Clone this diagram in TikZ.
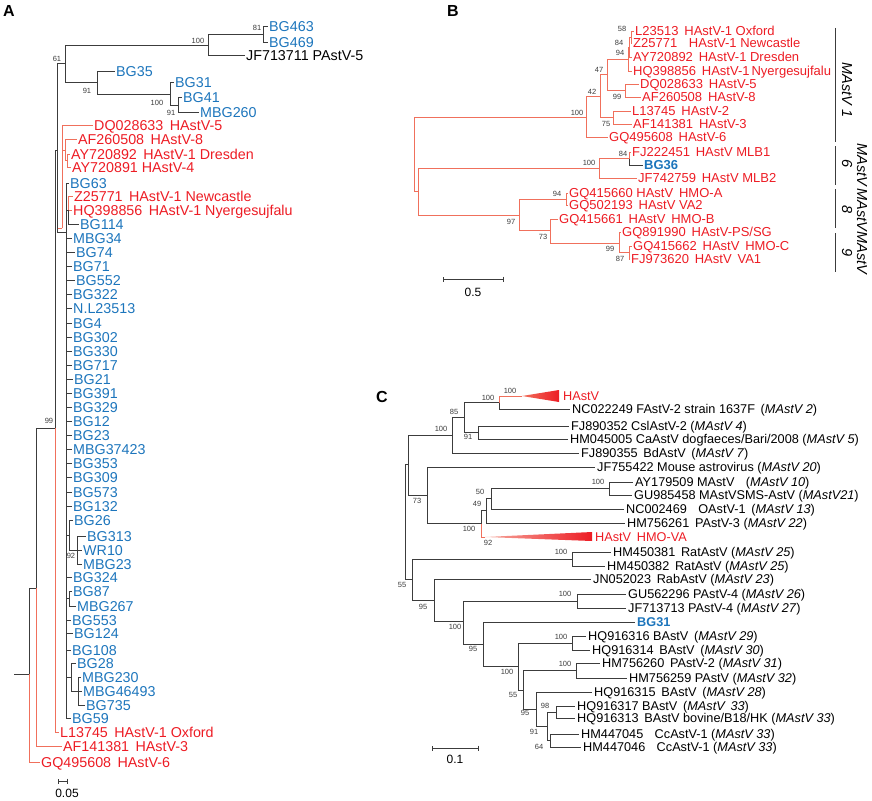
\documentclass[tikz,border=0pt]{standalone}
\usepackage{fontspec}
\setmainfont{Liberation Sans}
\usetikzlibrary{arrows.meta}
\definecolor{ablue}{RGB}{28,117,188}
\definecolor{ared}{RGB}{237,28,36}
\definecolor{salm}{RGB}{240,112,92}
\definecolor{lineg}{RGB}{60,60,60}
\newcommand{\lgap}{\hspace{0.45em}}

\begin{document}
\begin{tikzpicture}[x=1pt,y=-1pt,
  blk/.style={draw=lineg,line width=0.7pt},
  sal/.style={draw=salm,line width=0.8pt},
  leafA/.style={anchor=west,xshift=-1.5pt,inner xsep=1.5pt,inner ysep=0pt,text height=10.3pt,text depth=0pt,font=\fontsize{14.3}{14}\selectfont},
  leafB/.style={anchor=west,xshift=-1.5pt,inner xsep=1.5pt,inner ysep=0pt,text height=9.4pt,text depth=0pt,font=\fontsize{13}{13}\selectfont,text=ared},
  leafC/.style={anchor=west,xshift=-2pt,inner xsep=2pt,inner ysep=0pt,text height=9.1pt,text depth=0pt,font=\fontsize{12.7}{12.7}\selectfont},
  bs/.style={font=\fontsize{7.5}{7.5}\selectfont,inner sep=0pt,text=lineg},
  panel/.style={font=\fontsize{16}{16}\selectfont\bfseries,inner sep=0pt},
  clade/.style={font=\fontsize{14.5}{14.5}\selectfont\itshape,inner sep=0pt,rotate=-90}]

\useasboundingbox (0,0) rectangle (872,800);

%panel A
\node[panel] (pA) at (9,11) {A};

\coordinate (aStub) at (14,674);
\coordinate (aRoot) at (29,674);
\coordinate (aN1) at (36,588);
\coordinate (aN99) at (55,428);
\coordinate (aX) at (57,150);
\coordinate (aN61) at (65,63.5);
\coordinate (aN100) at (208,45);
\coordinate (aN81) at (263,34);
\coordinate (aN91) at (97,82.5);
\coordinate (aN100b) at (170,94);
\coordinate (aN91b) at (178,105);
\coordinate (aR1) at (62,228);
\coordinate (aR2) at (65,150);
\coordinate (aR3) at (67,160.5);
\coordinate (aP) at (66,232);
\coordinate (aZ) at (68,210);
\coordinate (aB26) at (69,535);
\coordinate (aB92) at (77,550);
\coordinate (aB87) at (69,598);
\coordinate (aG1) at (71,677);
\coordinate (aG2) at (78,691);

\node[leafA,text=ablue] (aBG463) at (269,26) {BG463};
\node[leafA,text=ablue] (aBG469) at (269,42) {BG469};
\node[leafA] (aJF713711) at (246,55) {JF713711 PAstV-5};
\node[leafA,text=ablue] (aBG35) at (116,71) {BG35};
\node[leafA,text=ablue] (aBG31) at (175,82) {BG31};
\node[leafA,text=ablue] (aBG41) at (183,97) {BG41};
\node[leafA,text=ablue] (aMBG260) at (200,112) {MBG260};
\node[leafA,text=ared] (aDQ028633) at (94,125.5) {DQ028633\lgap HAstV-5};
\node[leafA,text=ared] (aAF260508) at (78,139.5) {AF260508\lgap HAstV-8};
\node[leafA,text=ared] (aAY720892) at (71,154) {AY720892\lgap HAstV-1 Dresden};
\node[leafA,text=ared] (aAY720891) at (72,167) {AY720891 HAstV-4};
\node[leafA,text=ared] (aZ25771) at (74,196) {Z25771\lgap HAstV-1 Newcastle};
\node[leafA,text=ared] (aHQ398856) at (73,210) {HQ398856\lgap HAstV-1 Nyergesujfalu};
\node[leafA,text=ablue] (aBG114) at (80,224) {BG114};
\node[leafA,text=ablue] (aBG26) at (74,520) {BG26};
\node[leafA,text=ablue] (aBG313) at (87,536) {BG313};
\node[leafA,text=ablue] (aWR10) at (83,550) {WR10};
\node[leafA,text=ablue] (aMBG23) at (83,564) {MBG23};
\node[leafA,text=ablue] (aBG87) at (73,591) {BG87};
\node[leafA,text=ablue] (aMBG267) at (77,606) {MBG267};
\node[leafA,text=ablue] (aBG28) at (77,663) {BG28};
\node[leafA,text=ablue] (aMBG230) at (82,677) {MBG230};
\node[leafA,text=ablue] (aMBG46493) at (83,691) {MBG46493};
\node[leafA,text=ablue] (aBG735) at (86,705) {BG735};
\node[leafA,text=ared] (aL13745) at (60,732) {L13745\lgap HAstV-1 Oxford};
\node[leafA,text=ared] (aAF141381) at (63,746) {AF141381\lgap HAstV-3};
\node[leafA,text=ared] (aGQ495608) at (41,762) {GQ495608\lgap HAstV-6};

\draw[blk] (aStub) -- (aRoot);
\draw[sal] (aRoot) |- (aGQ495608.west);
\draw[blk] (aRoot) |- (aN1);
\draw[sal] (aN1) |- (aAF141381.west);
\draw[blk] (aN1) |- (aN99);
\draw[sal] (aN99) |- (aL13745.west);
\draw[blk] (aN99) |- (aX);
\draw[sal] (aX) |- (aR1);
\draw[blk] (aX) |- (aN61);
\draw[blk] (aX) |- (aP);
\draw[blk] (aN61) |- (aN100);
\draw[blk] (aN61) |- (aN91);
\draw[blk] (aN100) |- (aN81);
\draw[blk] (aN100) |- (aJF713711.west);
\draw[blk] (aN81) |- (aBG463.west);
\draw[blk] (aN81) |- (aBG469.west);
\draw[blk] (aN91) |- (aBG35.west);
\draw[blk] (aN91) |- (aN100b);
\draw[blk] (aN100b) |- (aBG31.west);
\draw[blk] (aN100b) |- (aN91b);
\draw[blk] (aN91b) |- (aBG41.west);
\draw[blk] (aN91b) |- (aMBG260.west);
\draw[sal] (aR1) |- (aDQ028633.west);
\draw[sal] (aR1) |- (aR2);
\draw[sal] (aR2) |- (aAF260508.west);
\draw[sal] (aR2) |- (aR3);
\draw[sal] (aR3) |- (aAY720892.west);
\draw[sal] (aR3) |- (aAY720891.west);
\draw[blk] (aP) |- (aZ);
\draw[sal] (aZ) |- (aZ25771.west);
\draw[sal] (aZ) |- (aHQ398856.west);
\draw[blk] (aZ) |- (aBG114.west);
\draw[blk] (aP) |- (aB26);
\draw[blk] (aB26) |- (aBG26.west);
\draw[blk] (aB26) |- (aB92);
\draw[blk] (aB92) |- (aBG313.west);
\draw[blk] (aB92) |- (aWR10.west);
\draw[blk] (aB92) |- (aMBG23.west);
\draw[blk] (aP) |- (aB87);
\draw[blk] (aB87) |- (aBG87.west);
\draw[blk] (aB87) |- (aMBG267.west);
\draw[blk] (aP) |- (aG1);
\draw[blk] (aG1) |- (aBG28.west);
\draw[blk] (aG1) |- (aG2);
\draw[blk] (aG2) |- (aMBG230.west);
\draw[blk] (aG2) |- (aMBG46493.west);
\draw[blk] (aG2) |- (aBG735.west);

% polytomy of the BG samples
\foreach \nm/\lb/\xx/\yy in {BG63/BG63/70/183, MBG34/MBG34/73/238, BG74/BG74/76/252,
  BG71/BG71/73/266, BG552/BG552/76/280, BG322/BG322/73/294, NL23513/N.L23513/73/308,
  BG4/BG4/73/323, BG302/BG302/73/337, BG330/BG330/73/351, BG717/BG717/73/365,
  BG21/BG21/74/379, BG391/BG391/73/393, BG329/BG329/73/407, BG12/BG12/73/421,
  BG23/BG23/73/435, MBG37423/MBG37423/73/449, BG353/BG353/73/463, BG309/BG309/73/477,
  BG573/BG573/73/492, BG132/BG132/73/506, BG324/BG324/73/577, BG553/BG553/72/620,
  BG124/BG124/74/633, BG108/BG108/72/650, BG59/BG59/72/718} {
  \node[leafA,text=ablue] (a\nm) at (\xx,\yy) {\lb};
  \draw[blk] (aP) |- (a\nm.west);
}

\foreach \v/\xx/\yy [count=\i] in {100/198/41, 81/257/28, 61/57/59, 91/87/91,
  100/157/103, 91/171/113, 99/49/421, 92/71/556}
  \node[bs] (abs\i) at (\xx,\yy) {\v};

\coordinate (aSc1) at (58,781);
\coordinate (aSc2) at (68,781);
\draw[blk,{Bar[width=5pt]}-{Bar[width=5pt]}] (aSc1) -- (aSc2);
\node[bs,font=\fontsize{12}{12}\selectfont,text=black] (aScl) at (67,793) {0.05};

%panel B
\node[panel] (pB) at (453,11) {B};

\coordinate (bRoot) at (414,154);
\coordinate (bN100) at (586,117);
\coordinate (bN42) at (600,96);
\coordinate (bN47) at (607,74);
\coordinate (bN94) at (628,59);
\coordinate (bN84) at (629,47);
\coordinate (bN58) at (631,37);
\coordinate (bN99) at (625,90.5);
\coordinate (bN75) at (613,117.5);
\coordinate (bZ) at (418,191.5);
\coordinate (bM100) at (599,168);
\coordinate (bN84b) at (629,158.5);
\coordinate (bN97) at (519,215);
\coordinate (bN94b) at (566,199);
\coordinate (bN73) at (550,230.5);
\coordinate (bN99b) at (619,243);
\coordinate (bN87) at (629,252.5);

\node[leafB] (bL23513) at (635,31) {L23513\lgap HAstV-1 Oxford};
\node[leafB] (bZ25771) at (633,43) {Z25771\lgap\lgap HAstV-1 Newcastle};
\node[leafB] (bAY720892) at (633,57) {AY720892\lgap HAstV-1 Dresden};
\node[leafB] (bHQ398856) at (633,71) {HQ398856\lgap HAstV-1\hspace{2pt}Nyergesujfalu};
\node[leafB] (bDQ028633) at (640,84) {DQ028633\lgap HAstV-5};
\node[leafB] (bAF260508) at (642,97) {AF260508\lgap HAstV-8};
\node[leafB] (bL13745) at (632,111) {L13745\lgap HAstV-2};
\node[leafB] (bAF141381) at (633,124) {AF141381\lgap HAstV-3};
\node[leafB] (bGQ495608) at (609,137) {GQ495608\lgap HAstV-6};
\node[leafB] (bFJ222451) at (632,152) {FJ222451\lgap HAstV MLB1};
\node[leafB,text=ablue,font=\fontsize{13}{13}\selectfont\bfseries] (bBG36) at (644,165) {BG36};
\node[leafB] (bJF742759) at (638,178) {JF742759\lgap HAstV MLB2};
\node[leafB] (bGQ415660) at (569,193) {GQ415660 HAstV\lgap HMO-A};
\node[leafB] (bGQ502193) at (569,205) {GQ502193\lgap HAstV VA2};
\node[leafB] (bGQ415661) at (559,219) {GQ415661\lgap HAstV\lgap HMO-B};
\node[leafB] (bGQ891990) at (622,232) {GQ891990\lgap HAstV-PS/SG};
\node[leafB] (bGQ415662) at (633,246) {GQ415662\lgap HAstV\lgap HMO-C};
\node[leafB] (bFJ973620) at (631,259) {FJ973620\lgap HAstV\lgap VA1};

\draw[sal] (bRoot) |- (bN100);
\draw[sal] (bRoot) |- (bZ);
\draw[sal] (bN100) |- (bN42);
\draw[sal] (bN100) |- (bGQ495608.west);
\draw[sal] (bN42) |- (bN47);
\draw[sal] (bN42) |- (bN75);
\draw[sal] (bN47) |- (bN94);
\draw[sal] (bN47) |- (bN99);
\draw[sal] (bN94) |- (bN84);
\draw[sal] (bN94) |- (bHQ398856.west);
\draw[sal] (bN84) |- (bN58);
\draw[sal] (bN84) |- (bAY720892.west);
\draw[sal] (bN58) |- (bL23513.west);
\draw[sal] (bN58) |- (bZ25771.west);
\draw[sal] (bN99) |- (bDQ028633.west);
\draw[sal] (bN99) |- (bAF260508.west);
\draw[sal] (bN75) |- (bL13745.west);
\draw[sal] (bN75) |- (bAF141381.west);
\draw[sal] (bZ) |- (bM100);
\draw[sal] (bZ) |- (bN97);
\draw[sal] (bM100) |- (bN84b);
\draw[sal] (bM100) |- (bJF742759.west);
\draw[sal] (bN84b) |- (bFJ222451.west);
\draw[blk] (bN84b) |- (bBG36.west);
\draw[sal] (bN97) |- (bN94b);
\draw[sal] (bN97) |- (bN73);
\draw[sal] (bN94b) |- (bGQ415660.west);
\draw[sal] (bN94b) |- (bGQ502193.west);
\draw[sal] (bN73) |- (bGQ415661.west);
\draw[sal] (bN73) |- (bN99b);
\draw[sal] (bN99b) |- (bGQ891990.west);
\draw[sal] (bN99b) |- (bN87);
\draw[sal] (bN87) |- (bGQ415662.west);
\draw[sal] (bN87) |- (bFJ973620.west);

\foreach \v/\xx/\yy [count=\i] in {58/622/29, 84/619/43, 94/620/53, 47/599/70,
  99/617/97, 42/592/92, 100/577/113, 75/606/124, 84/623/154, 100/589/163,
  94/557/194, 97/511/222, 73/543/237, 99/610/249, 87/620/259}
  \node[bs] (bbs\i) at (\xx,\yy) {\v};

% genotype bars
\draw[blk] (835,28) -- (835,142);
\draw[blk] (835,146) -- (835,185);
\draw[blk] (835,189) -- (835,228);
\draw[blk] (835,233) -- (835,272);
\node[clade] (bG1) at (847,90) {MAstV 1};
\node[clade] (bG6a) at (862,165) {MAstV};
\node[clade] (bG6b) at (847,164) {6};
\node[clade] (bG8a) at (862,210) {MAstV};
\node[clade] (bG8b) at (847,210) {8};
\node[clade] (bG9a) at (862,253) {MAstV};
\node[clade] (bG9b) at (847,253) {9};

\coordinate (bSc1) at (443,279);
\coordinate (bSc2) at (504,279);
\draw[blk,{Bar[width=5pt]}-{Bar[width=5pt]}] (bSc1) -- (bSc2);
\node[bs,font=\fontsize{12}{12}\selectfont,text=black] (bScl) at (473,292) {0.5};

%panel C
\node[panel] (pC) at (382,397) {C};

\coordinate (cRoot) at (405,522);
\coordinate (cT) at (408,464.5);
\coordinate (cN100a) at (452,435);
\coordinate (cN85) at (464,417);
\coordinate (cN100h) at (499,402.5);
\coordinate (cN91) at (478,432.5);
\coordinate (cN73) at (427,495);
\coordinate (cN100x) at (481,523.5);
\coordinate (cN49) at (486,510.5);
\coordinate (cN50) at (491,498);
\coordinate (cN100m) at (609,488.5);
\coordinate (cN55) at (412,579.5);
\coordinate (cN100r) at (572,559);
\coordinate (cN95) at (434,600);
\coordinate (cN100b) at (463,621.5);
\coordinate (cN100g) at (577,601);
\coordinate (cN95b) at (483,644);
\coordinate (cNA) at (518,666.5);
\coordinate (cN100q) at (572,643);
\coordinate (cN55b) at (523,690);
\coordinate (cN100p) at (576,670.5);
\coordinate (cN95c) at (536,709);
\coordinate (cN91b) at (547,726);
\coordinate (cN98) at (556,712);
\coordinate (cN64) at (550,740.5);
\coordinate (cHAtip) at (522,396);
\coordinate (cVAtip) at (485,537);

\node[leafC,text=ared] (cHAstV) at (563,396) {HAstV};
\node[leafC] (cNC022249) at (572,409) {NC022249 FAstV-2 strain 1637F\lgap(\textit{MAstV 2})};
\node[leafC] (cFJ890352) at (571,426) {FJ890352 CslAstV-2 (\textit{MAstV 4})};
\node[leafC] (cHM045005) at (570,439) {HM045005 CaAstV dogfaeces/Bari/2008 (\textit{MAstV 5})};
\node[leafC] (cFJ890355) at (581,453) {FJ890355\lgap BdAstV\lgap(\textit{MAstV 7})};
\node[leafC] (cJF755422) at (597,467) {JF755422 Mouse astrovirus (\textit{MAstV 20})};
\node[leafC] (cAY179509) at (635,482) {AY179509 MAstV\lgap\lgap(\textit{MAstV 10})};
\node[leafC] (cGU985458) at (634,495) {GU985458 MAstVSMS-AstV (\textit{MAstV21})};
\node[leafC] (cNC002469) at (626,509) {NC002469\lgap\lgap OAstV-1\lgap(\textit{MAstV 13})};
\node[leafC] (cHM756261) at (627,523) {HM756261\lgap PAstV-3 (\textit{MAstV 22})};
\node[leafC,text=ared] (cHMOVA) at (595,537) {HAstV\lgap HMO-VA};
\node[leafC] (cHM450381) at (613,552) {HM450381\lgap RatAstV (\textit{MAstV 25})};
\node[leafC] (cHM450382) at (607,566) {HM450382\lgap RatAstV (\textit{MAstV 25})};
\node[leafC] (cJN052023) at (593,579) {JN052023\lgap RabAstV (\textit{MAstV 23})};
\node[leafC] (cGU562296) at (628,594) {GU562296 PAstV-4 (\textit{MAstV 26})};
\node[leafC] (cJF713713) at (628,608) {JF713713 PAstV-4 (\textit{MAstV 27})};
\node[leafC,text=ablue,font=\fontsize{12.7}{12.7}\selectfont\bfseries] (cBG31) at (637,622) {BG31};
\node[leafC] (cHQ916316) at (588,636) {HQ916316 BAstV\lgap(\textit{MAstV 29})};
\node[leafC] (cHQ916314) at (592,650) {HQ916314\lgap BAstV\lgap(\textit{MAstV 30})};
\node[leafC] (cHM756260) at (602,663) {HM756260\lgap PAstV-2 (\textit{MAstV 31})};
\node[leafC] (cHM756259) at (629,678) {HM756259 PAstV (\textit{MAstV 32})};
\node[leafC] (cHQ916315) at (594,692) {HQ916315\lgap BAstV\lgap(\textit{MAstV 28})};
\node[leafC] (cHQ916317) at (577,706) {HQ916317 BAstV\lgap(\textit{MAstV\lgap 33})};
\node[leafC] (cHQ916313) at (577,718) {HQ916313\lgap BAstV bovine/B18/HK (\textit{MAstV 33})};
\node[leafC] (cHM447045) at (581,734) {HM447045\lgap\lgap CcAstV-1 (\textit{MAstV 33})};
\node[leafC] (cHM447046) at (583,747) {HM447046\lgap\lgap CcAstV-1 (\textit{MAstV 33})};

% collapsed clades
\shade[left color=salm,right color=ared] (cHAtip) -- (559,390) -- (559,402) -- cycle;
\shade[left color=salm!60,right color=ared] (cVAtip) -- (592,532) -- (592,541) -- cycle;

\draw[blk] (cRoot) |- (cT);
\draw[blk] (cRoot) |- (cN55);
\draw[blk] (cT) |- (cN100a);
\draw[blk] (cT) |- (cN73);
\draw[blk] (cN100a) |- (cN85);
\draw[blk] (cN100a) |- (cFJ890355.west);
\draw[blk] (cN85) |- (cN100h);
\draw[blk] (cN85) |- (cN91);
\draw[sal] (cN100h) |- (cHAtip);
\draw[blk] (cN100h) |- (cNC022249.west);
\draw[blk] (cN91) |- (cFJ890352.west);
\draw[blk] (cN91) |- (cHM045005.west);
\draw[blk] (cN73) |- (cJF755422.west);
\draw[blk] (cN73) |- (cN100x);
\draw[blk] (cN100x) |- (cN49);
\draw[sal] (cN100x) |- (cVAtip);
\draw[blk] (cN49) |- (cN50);
\draw[blk] (cN49) |- (cHM756261.west);
\draw[blk] (cN50) |- (cN100m);
\draw[blk] (cN50) |- (cNC002469.west);
\draw[blk] (cN100m) |- (cAY179509.west);
\draw[blk] (cN100m) |- (cGU985458.west);
\draw[blk] (cN55) |- (cN100r);
\draw[blk] (cN55) |- (cN95);
\draw[blk] (cN100r) |- (cHM450381.west);
\draw[blk] (cN100r) |- (cHM450382.west);
\draw[blk] (cN95) |- (cJN052023.west);
\draw[blk] (cN95) |- (cN100b);
\draw[blk] (cN100b) |- (cN100g);
\draw[blk] (cN100b) |- (cN95b);
\draw[blk] (cN100g) |- (cGU562296.west);
\draw[blk] (cN100g) |- (cJF713713.west);
\draw[blk] (cN95b) |- (cBG31.west);
\draw[blk] (cN95b) |- (cNA);
\draw[blk] (cNA) |- (cN100q);
\draw[blk] (cNA) |- (cN55b);
\draw[blk] (cN100q) |- (cHQ916316.west);
\draw[blk] (cN100q) |- (cHQ916314.west);
\draw[blk] (cN55b) |- (cN100p);
\draw[blk] (cN55b) |- (cN95c);
\draw[blk] (cN100p) |- (cHM756260.west);
\draw[blk] (cN100p) |- (cHM756259.west);
\draw[blk] (cN95c) |- (cHQ916315.west);
\draw[blk] (cN95c) |- (cN91b);
\draw[blk] (cN91b) |- (cN98);
\draw[blk] (cN91b) |- (cN64);
\draw[blk] (cN98) |- (cHQ916317.west);
\draw[blk] (cN98) |- (cHQ916313.west);
\draw[blk] (cN64) |- (cHM447045.west);
\draw[blk] (cN64) |- (cHM447046.west);

\foreach \v/\xx/\yy [count=\i] in {100/510/391, 100/488/398, 85/454/412, 91/468/437,
  100/441/429, 100/598/482, 50/480/492, 49/477/504, 73/417/501, 100/469/529,
  92/488/543, 100/561/552, 55/402/585, 95/423/607, 100/565/594, 100/455/627,
  100/561/637, 95/473/649, 100/565/664, 100/507/672, 55/513/695, 98/545/706,
  95/525/713, 91/534/732, 64/539/747}
  \node[bs] (cbs\i) at (\xx,\yy) {\v};

\coordinate (cSc1) at (432,748);
\coordinate (cSc2) at (479,748);
\draw[blk,{Bar[width=5pt]}-{Bar[width=5pt]}] (cSc1) -- (cSc2);
\node[bs,font=\fontsize{12}{12}\selectfont,text=black] (cScl) at (455,759) {0.1};

\end{tikzpicture}
\end{document}
